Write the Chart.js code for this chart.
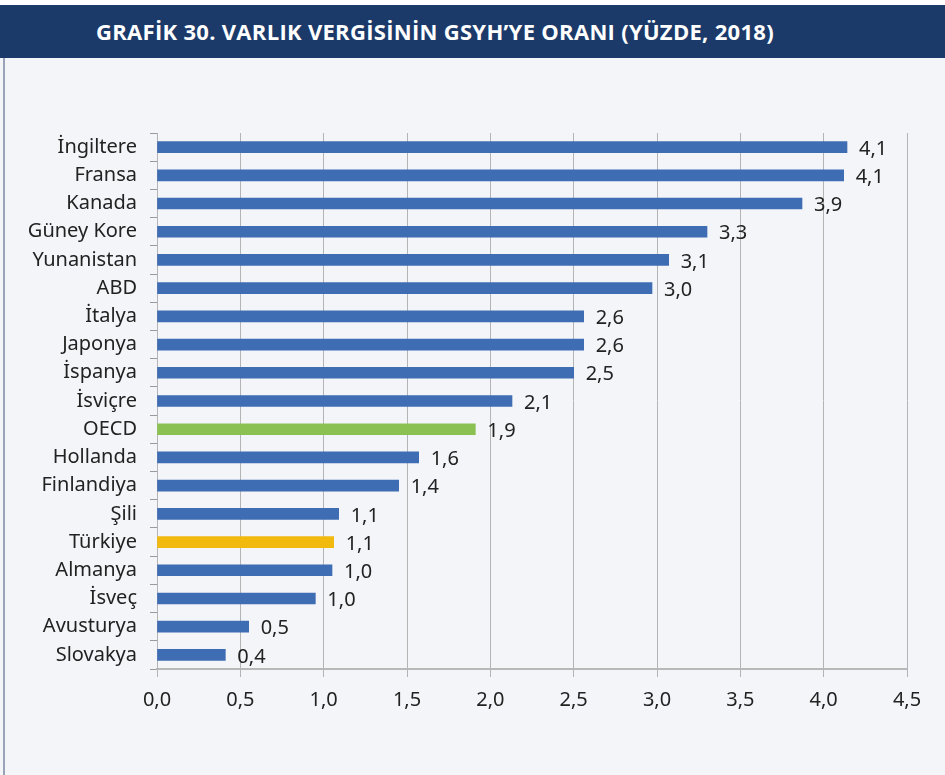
<!DOCTYPE html>
<html lang="tr">
<head>
<meta charset="utf-8">
<title>Grafik 30</title>
<script src="https://cdn.jsdelivr.net/npm/chart.js@4/dist/chart.umd.min.js"></script>
<style>
    html, body { margin: 0; padding: 0; background: #ffffff; }
    #page { position: relative; width: 945px; height: 775px; overflow: hidden; }
    #header {
        position: absolute; left: 0; top: 5px; width: 945px; height: 53px;
        background: #1b3a6a;
    }
    #title {
        position: absolute; left: 96px; top: 0; height: 53px; line-height: 53px;
        color: #ffffff; white-space: nowrap;
        font-family: 'Open Sans', sans-serif; font-weight: bold; font-size: 22px;
        letter-spacing: 0.3px;
    }
    #body {
        position: absolute; left: 0; top: 58px; width: 945px; height: 717px;
        background: #f4f5f9;
    }
    #leftLine { position: absolute; left: 3px; top: 58px; width: 2px; height: 717px; background: #9aa3b8; }
    #chartBox { position: absolute; left: 0; top: 58px; width: 945px; height: 717px; }
</style>
</head>
<body>
<div id="page">
    <div id="header"><div id="title">GRAFİK 30. VARLIK VERGİSİNİN GSYH’YE ORANI (YÜZDE, 2018)</div></div>
    <div id="body"></div>
    <div id="leftLine"></div>
    <div id="chartBox"><canvas id="barChart"></canvas></div>
</div>
<script>
// Veriler
const countries = ['İngiltere', 'Fransa', 'Kanada', 'Güney Kore', 'Yunanistan', 'ABD', 'İtalya', 'Japonya',
    'İspanya', 'İsviçre', 'OECD', 'Hollanda', 'Finlandiya', 'Şili', 'Türkiye', 'Almanya', 'İsveç',
    'Avusturya', 'Slovakya'];
const values = [4.14, 4.12, 3.87, 3.30, 3.07, 2.97, 2.56, 2.56, 2.50, 2.13, 1.91, 1.57, 1.45, 1.09, 1.06,
    1.05, 0.95, 0.55, 0.41];
const valueLabels = ['4,1', '4,1', '3,9', '3,3', '3,1', '3,0', '2,6', '2,6', '2,5', '2,1', '1,9', '1,6', '1,4',
    '1,1', '1,1', '1,0', '1,0', '0,5', '0,4'];
const xTicks = ['0,0', '0,5', '1,0', '1,5', '2,0', '2,5', '3,0', '3,5', '4,0', '4,5'];

const barColors = countries.map(c => {
    if (c === 'OECD') return '#8bc152';   // yeşil
    if (c === 'Türkiye') return '#f2b90f'; // sarı
    return '#3f6db4';                       // mavi
});

const labelFont = "'Noto Sans', 'Open Sans', sans-serif";

// Çubuk sonlarına değer yazısı
const valueLabelPlugin = {
    id: 'valueLabels',
    afterDatasetsDraw(chart) {
        const ctx = chart.ctx;
        const meta = chart.getDatasetMeta(0);
        ctx.save();
        ctx.font = '20px ' + labelFont;
        ctx.fillStyle = '#222222';
        ctx.textAlign = 'left';
        ctx.textBaseline = 'middle';
        meta.data.forEach((bar, i) => {
            ctx.fillText(valueLabels[i], bar.x + 12, bar.y + 2);
        });
        ctx.restore();
    }
};

new Chart(document.getElementById('barChart'), {
    type: 'bar',
    data: {
        labels: countries,
        datasets: [{
            data: values,
            backgroundColor: barColors,
            borderWidth: 0,
            barThickness: 11
        }]
    },
    options: {
        indexAxis: 'y',
        responsive: true,
        maintainAspectRatio: false,
        animation: false,
        layout: { padding: { top: 75, right: 38, left: 0, bottom: 0 } },
        plugins: {
            legend: { display: false },
            tooltip: { enabled: false }
        },
        scales: {
            x: {
                min: 0,
                max: 4.5,
                afterFit(scale) { scale.height = 106; },
                afterBuildTicks(scale) {
                    scale.ticks = xTicks.map((t, i) => ({ value: i * 0.5 }));
                },
                ticks: {
                    callback: (v, i) => xTicks[i],
                    font: { family: labelFont, size: 20 },
                    color: '#222222',
                    padding: 11,
                    maxRotation: 0
                },
                grid: { color: '#b4b4b4', lineWidth: 1, tickLength: 8, tickColor: '#b4b4b4' },
                border: { display: true, color: '#b8b8b8', width: 2 }
            },
            y: {
                afterFit(scale) { scale.width = 157; },
                ticks: {
                    font: { family: labelFont, size: 20 },
                    color: '#222222',
                    padding: 13
                },
                grid: { offset: true, drawOnChartArea: false, tickLength: 7, color: '#9a9a9a' },
                border: { display: true, color: '#b4b4b4', width: 1 }
            }
        }
    },
    plugins: [valueLabelPlugin]
});
</script>
</body>
</html>
